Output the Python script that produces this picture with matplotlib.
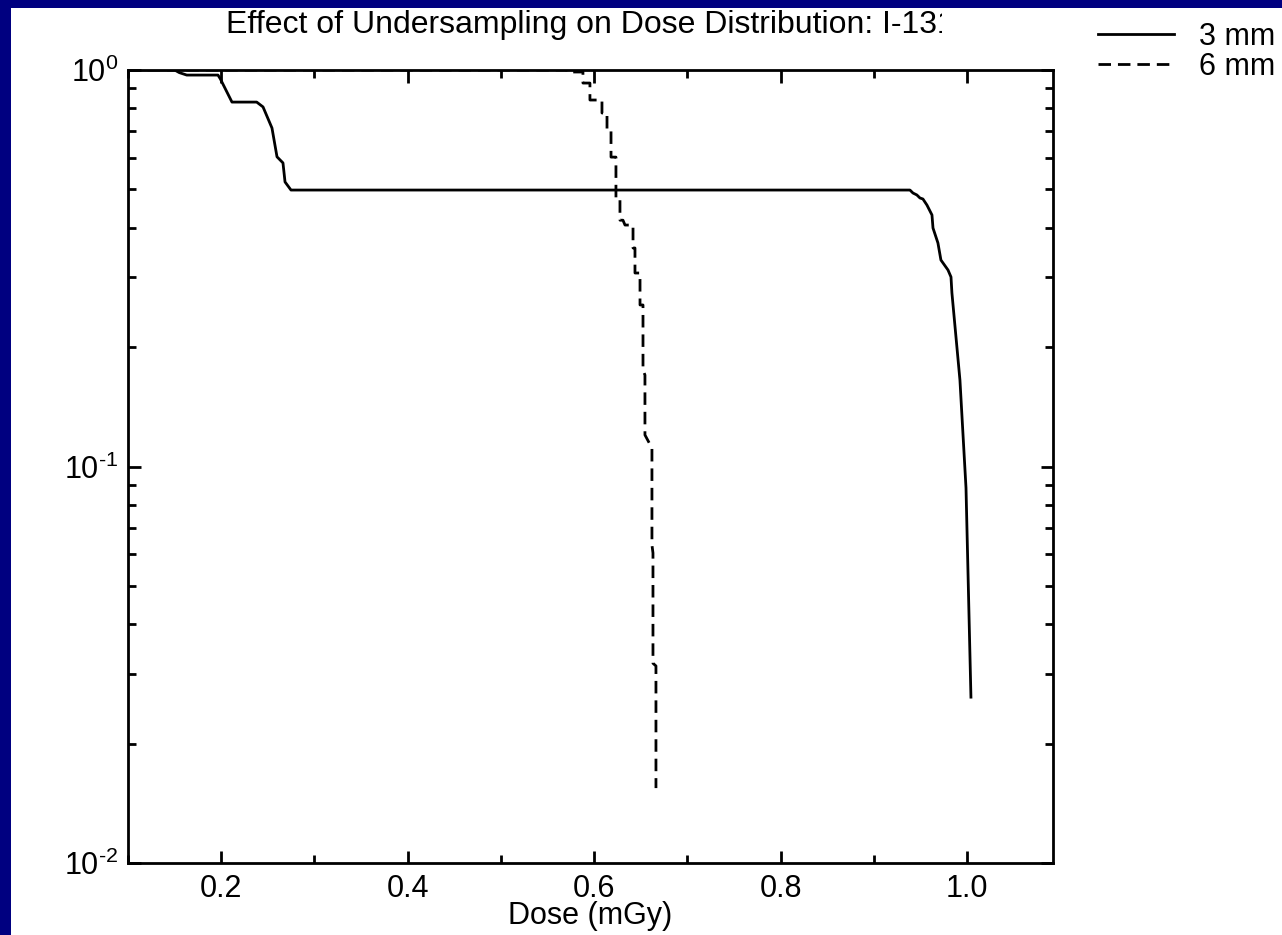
import matplotlib
matplotlib.use("Agg")
import matplotlib.pyplot as plt
from matplotlib.patches import Rectangle
from matplotlib.ticker import MultipleLocator, FormatStrFormatter, LogLocator, FuncFormatter
from matplotlib.transforms import Bbox
import numpy as np

plt.rcParams['font.family'] = ['Liberation Sans', 'DejaVu Sans']
plt.rcParams['mathtext.fontset'] = 'custom'
plt.rcParams['mathtext.rm'] = 'Liberation Sans'
plt.rcParams['mathtext.it'] = 'Liberation Sans'

# 3 mm voxel DVH
dose_3mm = [0.1, 0.150, 0.155, 0.163, 0.1965, 0.199, 0.2115, 0.238, 0.2448, 0.2544,
            0.2598, 0.2662, 0.2684, 0.2748, 0.9386, 0.9418, 0.946, 0.9493, 0.9525,
            0.9568, 0.9622, 0.9633, 0.9686, 0.9718, 0.9794, 0.9826, 0.9836, 0.9922,
            0.9987, 1.004]
frac_3mm = [1.0, 1.0, 0.985, 0.971, 0.971, 0.95, 0.830, 0.830, 0.807, 0.714,
            0.604, 0.583, 0.522, 0.498, 0.498, 0.4895, 0.484, 0.4756, 0.4728,
            0.4565, 0.4309, 0.3995, 0.3662, 0.3317, 0.313, 0.3006, 0.274, 0.1652,
            0.0883, 0.0262]

# 6 mm voxel DVH
dose_6mm = [0.1, 0.5708, 0.5708, 0.5879, 0.5879, 0.5954, 0.5954, 0.6083, 0.6083,
            0.6137, 0.6137, 0.618, 0.618, 0.6233, 0.6233, 0.6276, 0.6276, 0.6308,
            0.633, 0.6416, 0.6416, 0.6437, 0.6437, 0.6491, 0.6491, 0.6523, 0.6523,
            0.6544, 0.6544, 0.6619, 0.6619, 0.663, 0.663, 0.6662, 0.6662]
frac_6mm = [1.0, 1.0, 0.9885, 0.9885, 0.927, 0.927, 0.840, 0.840, 0.779,
            0.779, 0.706, 0.706, 0.603, 0.603, 0.470, 0.470, 0.418, 0.418,
            0.4064, 0.4064, 0.3557, 0.3557, 0.3076, 0.3076, 0.2555, 0.2555, 0.1751,
            0.1701, 0.1201, 0.1113, 0.0634, 0.0605, 0.0319, 0.0314, 0.01545]

W, H = 1282, 935
fig = plt.figure(figsize=(W / 100, H / 100), dpi=100, facecolor='#000080')
fig.patches.append(Rectangle((11 / W, 0), 1 - 11 / W, 1 - 8 / H,
                             transform=fig.transFigure, facecolor='white',
                             edgecolor='none', zorder=-10))

ax = fig.add_axes([128 / W, 72 / H, 925 / W, 793 / H])
ax.plot(dose_3mm, frac_3mm, color='black', lw=2, label='3 mm')
ax.plot(dose_6mm, frac_6mm, color='black', lw=2, linestyle=(0, (4.5, 2.5)),
        label='6 mm')

ax.set_yscale('log')
ax.set_ylim(0.01, 1.0)
ax.set_xlim(0.1, 1.092)
ax.xaxis.set_major_locator(MultipleLocator(0.2))
ax.xaxis.set_minor_locator(MultipleLocator(0.1))
ax.xaxis.set_major_formatter(FormatStrFormatter('%.1f'))
ax.yaxis.set_major_locator(LogLocator(base=10))
ax.yaxis.set_minor_locator(LogLocator(base=10, subs=range(2, 10)))


def pow10(v, pos):
    e = int(round(np.log10(v)))
    if e < 0:
        return r'$\mathregular{10^{\text{-}%d}}$' % (-e)
    return r'$\mathregular{10^{%d}}$' % e


ax.yaxis.set_major_formatter(FuncFormatter(pow10))

for s in ax.spines.values():
    s.set_linewidth(2)
ax.tick_params(which='both', direction='in', top=True, right=True, width=2,
               labelsize=22)
ax.tick_params(which='major', length=9)
ax.tick_params(which='minor', length=6)
ax.tick_params(axis='x', pad=8)
ax.tick_params(axis='y', pad=7)

ax.set_xlabel('Dose (mGy)', fontsize=22, labelpad=-2)

title = ax.set_title('Effect of Undersampling on Dose Distribution: I-131',
                     fontsize=23, pad=27)
title.set_clip_box(Bbox.from_extents(0, 0, 942, H))
title.set_clip_on(True)

fig.legend(loc='upper left', bbox_to_anchor=(1098 / W, 1 - 22 / H),
           frameon=False, fontsize=22, handlelength=2.5, handletextpad=0.79,
           labelspacing=0.0, borderpad=0, borderaxespad=0)

fig.savefig('out.png', dpi=100, facecolor=fig.get_facecolor())
